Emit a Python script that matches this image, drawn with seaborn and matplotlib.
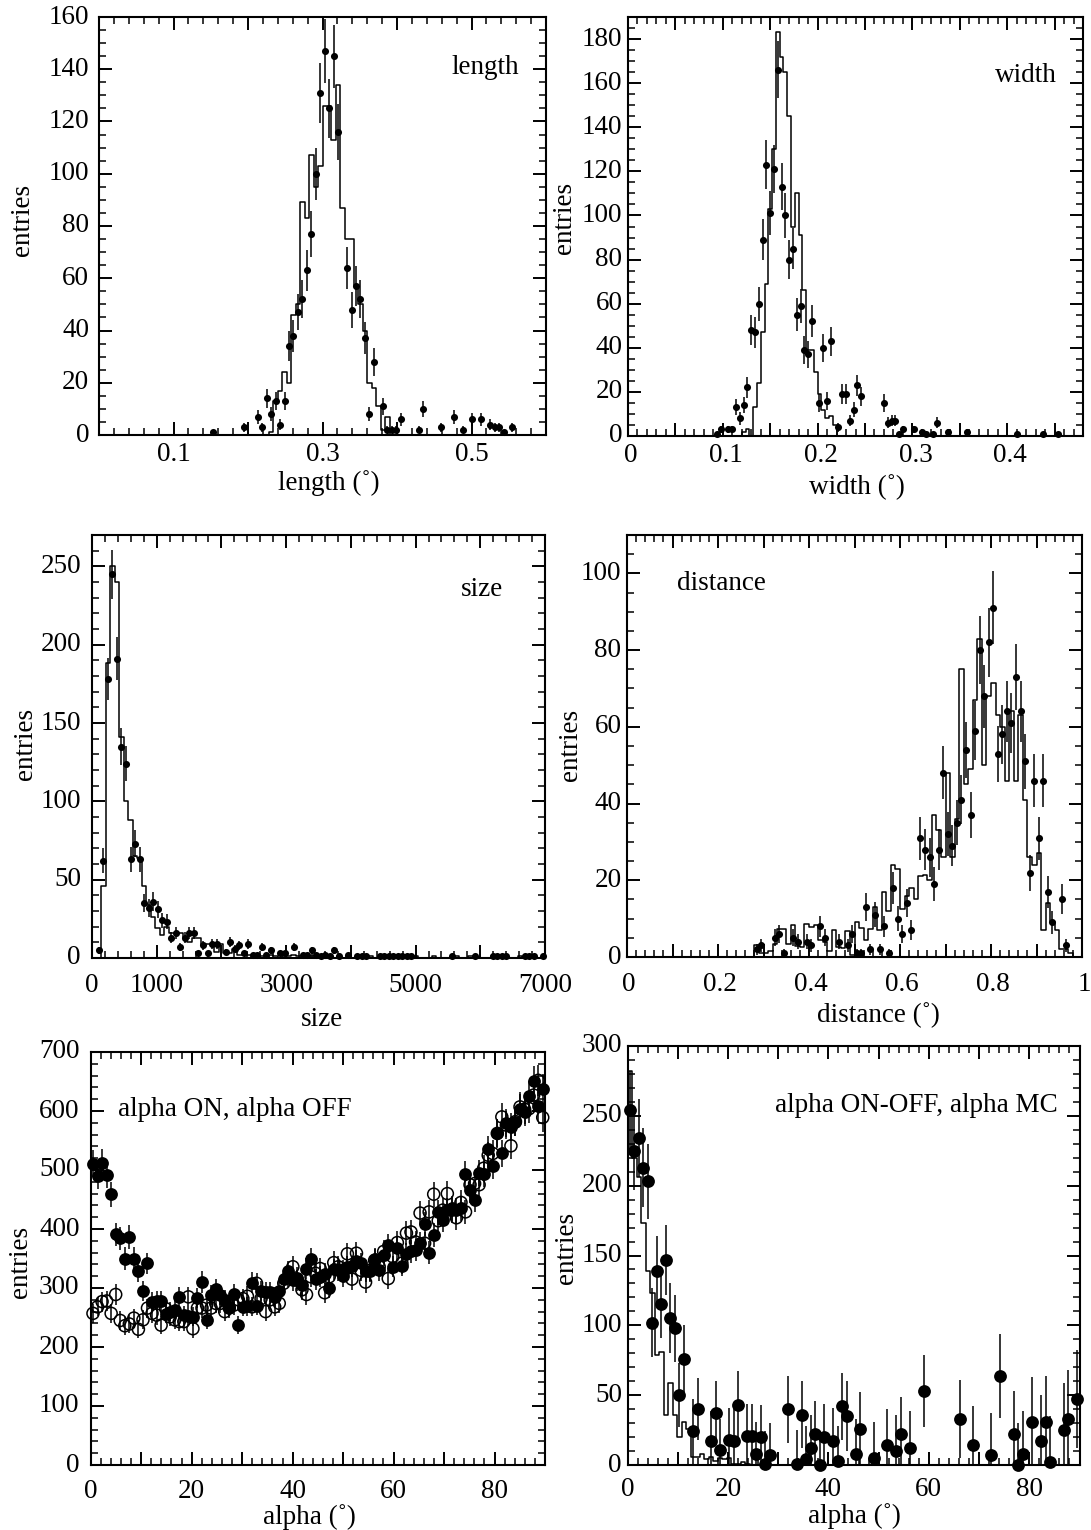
"""Image parameter distributions: data points against simulated histograms."""

import numpy as np
import matplotlib
matplotlib.use("Agg")
import matplotlib.pyplot as plt
from matplotlib.ticker import MultipleLocator
from matplotlib.transforms import ScaledTranslation
import seaborn as sns

# length panel
length_idx = [25, 32, 35, 36, 37, 38, 39, 40, 41, 42, 43, 44, 45, 46, 47, 48, 49, 50, 51, 52, 53,
              55, 56, 57, 58, 59, 60, 61, 63, 64, 65, 66, 67, 71, 72, 76, 79, 81, 83, 85, 87, 88, 89, 90, 92]
length_vals = [1, 3, 7, 3, 14, 8, 13, 4, 13, 34, 38, 47, 52, 63, 77, 100, 131, 147, 125, 145, 116,
               64, 48, 57, 52, 37, 8, 28, 11, 2, 2, 2, 6, 2, 10, 3, 7, 2, 6, 6, 4, 3, 3, 1, 3]
length_errs = [1, 1.7, 2.6, 1.7, 3.7, 2.8, 3.6, 2, 3.6, 5.8, 6.2, 6.9, 7.2, 7.9, 8.8, 10, 11.4, 12.1, 11.2, 12, 10.8,
               8, 6.9, 7.5, 7.2, 6.1, 2.8, 5.3, 3.3, 1.4, 1.4, 1.4, 2.4, 1.4, 3.2, 1.7, 2.6, 1.4, 2.4, 2.4, 2, 1.7, 1.7, 1, 1.7]
length_mc_start = 38
length_mc = [1, 13, 17, 24, 20, 46, 50, 89, 83, 107, 95, 103, 126, 126, 113, 134, 87, 75, 75, 57, 50, 40, 20, 18, 11, 2, 7, 0]

# width panel
width_idx = [23, 24, 26, 27, 28, 29, 30, 31, 32, 33, 34, 35, 36, 37, 38, 39, 40, 41, 42, 43, 44, 45, 46, 47, 48,
             50, 51, 52, 53, 55, 56, 57, 58, 59, 60, 61, 67, 68, 69, 70, 71, 72, 75, 77, 78, 80, 81, 84, 89, 102, 109, 113]
width_vals = [1, 3, 3, 3, 13, 8, 14, 22, 48, 47, 60, 89, 123, 101, 121, 166, 113, 100, 80, 85, 55, 59, 39, 37, 52,
              15, 40, 16, 43, 4, 19, 19, 7, 12, 23, 18, 15, 6, 7, 7, 1, 3, 3, 2, 1, 1, 6, 2, 2, 1, 1, 1]
width_errs = [1, 1.7, 1.7, 1.7, 3.6, 2.8, 3.7, 4.7, 6.9, 6.9, 7.7, 9.4, 11.1, 10, 11, 12.9, 10.6, 10, 8.9, 9.2, 7.4, 7.7, 6.2, 6.1, 7.2,
              3.9, 6.3, 4, 6.6, 2, 4.4, 4.4, 2.6, 3.5, 4.8, 4.2, 3.9, 2.4, 2.6, 2.6, 1, 1.7, 1.7, 1.4, 1, 1, 2.4, 1.4, 1.4, 1, 1, 1]
width_mc_start = 30
width_mc = [2, 3, 0, 13, 24, 47, 69, 103, 130, 183, 172, 165, 145, 95, 110, 91, 66, 39, 39, 29, 19, 12, 8, 9, 5, 0]

# size panel
size_idx = [1, 2, 3, 4, 5, 6, 7, 8, 9, 10, 11, 12, 13, 14, 15, 16, 17, 18, 19, 20, 21, 22, 23, 24, 25, 26, 27,
            29, 30, 31, 32, 33, 34, 35, 36, 37, 38, 39, 41, 42, 44, 46, 47, 48, 49, 50, 51, 52, 53, 54, 56, 58, 59, 60,
            63, 64, 65, 66, 67, 68, 69, 70, 79, 84, 88, 89, 90, 91, 95, 96, 97, 99]
size_vals = [5, 62, 178, 245, 191, 135, 124, 63, 73, 63, 35, 32, 36, 31, 24, 23, 13, 16, 7, 13, 16, 16, 3, 8, 3, 9, 9,
             4, 10, 6, 8, 3, 9, 2, 2, 7, 2, 5, 3, 3, 7, 2, 2, 5, 2, 1, 2, 1, 5, 1, 2, 1, 1, 1,
             1, 1, 1, 1, 1, 1, 1, 1, 1, 1, 1, 1, 1, 1, 1, 1, 1, 1]
size_errs = [2.2, 7.9, 13.3, 15.7, 13.8, 11.6, 11.1, 7.9, 8.5, 7.9, 5.9, 5.7, 6, 5.6, 4.9, 4.8, 3.6, 4, 2.6, 3.6, 4, 4, 1.7, 2.8, 1.7, 3, 3,
             2, 3.2, 2.4, 2.8, 1.7, 3, 1.4, 1.4, 2.6, 1.4, 2.2, 1.7, 1.7, 2.6, 1.4, 1.4, 2.2, 1.4, 1, 1.4, 1, 2.2, 1, 1.4, 1, 1, 1,
             1, 1, 1, 1, 1, 1, 1, 1, 1, 1, 1, 1, 1, 1, 1, 1, 1, 1]
size_mc_start = 2
size_mc = [46, 188, 250, 240, 141, 100, 88, 65, 64, 46, 34, 26, 19, 15, 20, 16, 16, 16, 13, 10,
           13, 13, 8, 9, 9, 4, 9, 3, 3, 6, 2, 2, 2, 1, 2, 1, 1, 2, 1, 0, 1,
           1, 2, 1, 1, 0, 1, 1, 0, 1, 1, 0, 1, 0, 1, 0, 0, 1, 0, 1, 0,
           0, 1, 0, 0, 1, 0, 0, 0, 1, 0, 0, 0, 1, 0, 0, 0, 0, 1, 0, 0,
           1, 0, 0, 0, 0, 1, 0, 0, 0, 0, 0, 1, 0, 0, 0, 0, 0]

# distance panel
dist_idx = [28, 29, 32, 33, 34, 36, 37, 39, 40, 42, 43, 46, 48, 49, 50, 51, 52, 53, 54, 55,
            56, 57, 58, 59, 60, 61, 62, 64, 65, 66, 67, 68, 69, 70, 71, 72, 73, 74, 75, 76,
            77, 78, 79, 80, 81, 82, 83, 84, 85, 86, 87, 88, 89, 90, 91, 92, 93, 95, 96]
dist_vals = [2, 3, 5, 6, 1, 5, 4, 4, 3, 8, 5, 4, 3, 6, 1, 1, 13, 2, 11, 2,
             8, 1, 18, 10, 6, 14, 7, 31, 28, 26, 19, 28, 48, 32, 29, 35, 41, 54, 37, 59,
             80, 68, 82, 91, 53, 58, 64, 61, 73, 64, 51, 22, 46, 31, 46, 17, 9, 15, 3]
dist_errs = [1.4, 1.7, 2.2, 2.4, 1, 2.2, 2, 2, 1.7, 2.8, 2.2, 2, 1.7, 2.4, 1, 1, 3.6, 1.4, 3.3, 1.4,
             2.8, 1, 4.2, 3.2, 2.4, 3.7, 2.6, 5.6, 5.3, 5.1, 4.4, 5.3, 6.9, 5.7, 5.4, 5.9, 6.4, 7.3, 6.1, 7.7,
             8.9, 8.2, 9.1, 9.5, 7.3, 7.6, 8, 7.8, 8.5, 8, 7.1, 4.7, 6.8, 5.6, 6.8, 4.1, 3, 3.9, 1.7]
dist_mc_start = 28
dist_mc = [3, 1, 1, 1.5, 3.5, 7.2, 7.4, 3.3, 8.3, 2.8, 2.7, 8.5, 7.7, 8.3, 4.4, 4, 1.5, 7, 2.6, 2.4,
           6.8, 0.5, 9, 7.5, 4.4, 7.2, 13, 7, 17, 12, 24, 23, 12.5, 16, 18, 15, 21, 21.4, 20, 37,
           33, 26, 48, 26, 36, 75, 45, 49, 67, 83, 50, 68, 71.5, 63, 60, 46, 64, 46, 63, 41,
           26, 24, 27, 7, 14, 9, 7, 2, 2, 1, 0]

# alpha ON / OFF panel, one value for each of the 100 bins
alpha_on = [511, 489, 512, 491, 459, 391, 384, 350, 386, 350, 329, 295, 342, 277, 278, 278, 256, 260, 263, 284,
            254, 252, 251, 283, 310, 246, 288, 299, 288, 280, 268, 290, 237, 268, 269, 309, 270, 295, 294, 294,
            285, 295, 315, 328, 313, 317, 305, 333, 349, 315, 319, 324, 300, 332, 330, 320, 336, 337, 346, 342,
            328, 329, 349, 330, 356, 373, 336, 367, 338, 358, 362, 364, 376, 408, 360, 390, 428, 415, 432, 435,
            432, 435, 494, 466, 450, 495, 493, 535, 507, 563, 528, 580, 573, 582, 603, 599, 626, 651, 608, 637]
alpha_on_errs = [23, 22, 23, 22, 21, 20, 20, 19, 20, 19, 18, 17, 18, 17, 17, 17, 16, 16, 16, 17,
                 16, 16, 16, 17, 18, 16, 17, 17, 17, 17, 16, 17, 15, 16, 16, 18, 16, 17, 17, 17,
                 17, 17, 18, 18, 18, 18, 17, 18, 19, 18, 18, 18, 17, 18, 18, 18, 18, 18, 19, 18,
                 18, 18, 19, 18, 19, 19, 18, 19, 18, 19, 19, 19, 19, 20, 19, 20, 21, 20, 21, 21,
                 21, 21, 22, 22, 21, 22, 22, 23, 23, 24, 23, 24, 24, 24, 25, 24, 25, 26, 25, 25]
alpha_off = [257, 268, 277, 278, 257, 289, 245, 236, 239, 249, 230, 246, 266, 257, 254, 237, 265, 251, 246, 243,
             243, 285, 231, 266, 266, 271, 266, 274, 274, 260, 266, 271, 280, 282, 286, 268, 308, 282, 260, 280,
             268, 274, 308, 319, 336, 313, 297, 289, 319, 325, 333, 292, 319, 343, 336, 330, 358, 315, 359, 330,
             310, 330, 347, 336, 362, 316, 353, 377, 342, 393, 395, 378, 427, 376, 429, 459, 414, 432, 460, 432,
             419, 445, 429, 475, 477, 475, 503, 525, 528, 562, 590, 576, 541, 582, 607, 603, 604, 627, 652, 589]
alpha_off_errs = [16, 16, 17, 17, 16, 17, 16, 15, 15, 16, 15, 16, 16, 16, 16, 15, 16, 16, 16, 16,
                  16, 17, 15, 16, 16, 16, 16, 17, 17, 16, 16, 16, 17, 17, 17, 16, 18, 17, 16, 17,
                  16, 17, 18, 18, 18, 18, 17, 17, 18, 18, 18, 17, 18, 19, 18, 18, 19, 18, 19, 18,
                  18, 18, 19, 18, 19, 18, 19, 19, 18, 20, 20, 19, 21, 19, 21, 21, 20, 21, 21, 21,
                  20, 21, 21, 22, 22, 22, 22, 23, 23, 24, 24, 24, 23, 24, 25, 25, 25, 25, 26, 24]

# alpha ON-OFF panel
diff_idx = [0, 1, 2, 3, 4, 5, 6, 7, 8, 9, 10, 11, 12, 14, 15, 18, 19, 20, 22, 23, 24, 26, 27, 28, 29, 30, 31,
            35, 37, 38, 39, 40, 41, 42, 43, 45, 46, 47, 48, 50, 51, 54, 57, 59, 60, 62, 65,
            73, 76, 80, 82, 85, 86, 87, 89, 91, 92, 93, 96, 97, 99]
diff_vals = [254, 225, 234, 213, 203, 102, 139, 115, 147, 105, 98, 50, 76, 24, 40, 17, 37, 11, 18, 17, 43, 21, 21, 8, 20, 1, 7,
             40, 1, 36, 4, 12, 22, 0, 20, 17, 3, 42, 35, 8, 26, 5, 14, 10, 22, 12, 53,
             33, 14, 7, 64, 22, 0, 8, 31, 17, 31, 2, 25, 33, 47]
diff_errs = [28, 28, 28, 28, 27, 25, 25, 24, 25, 25, 24, 23, 24, 23, 22, 22, 23, 22, 23, 23, 24, 23, 23, 23, 23, 23, 23,
             24, 24, 24, 24, 24, 24, 24, 24, 24, 25, 24, 25, 25, 26, 26, 26, 26, 27, 27, 26,
             28, 28, 30, 30, 31, 30, 31, 32, 33, 33, 33, 34, 35, 35]
diff_mc = [282, 220, 206, 173, 139, 123, 79, 81, 36, 59, 36, 20, 31, 26, 6, 6, 8, 4, 6, 3, 5, 4, 5, 1, 1, 2, 1, 0]

x_labels = {
    "length": {0.1: "0.1", 0.3: "0.3", 0.5: "0.5"},
    "width": {0: "0", 0.1: "0.1", 0.2: "0.2", 0.3: "0.3", 0.4: "0.4"},
    "size": {0: "0", 1000: "1000", 3000: "3000", 5000: "5000", 7000: "7000"},
    "distance": {0: "0", 0.2: "0.2", 0.4: "0.4", 0.6: "0.6", 0.8: "0.8", 1: "1"},
    "alpha": {0: "0", 20: "20", 40: "40", 60: "60", 80: "80"},
}

W, H = 1091, 1530
DPI = 100
FONT = 19.5


def draw_hist(ax, counts, start, xmax, nbins):
    """MC histogram as a step outline."""
    width = xmax / nbins
    centers = (start + np.arange(len(counts)) + 0.5) * width
    edges = np.linspace(0, xmax, nbins + 1).tolist()
    sns.histplot(x=centers, weights=counts, bins=edges, element="step", fill=False,
                 color="black", linewidth=1.1, ax=ax, legend=False)


def draw_points(ax, idx, vals, errs, xmax, nbins, size=26, open_marker=False):
    """Data points with vertical error bars."""
    x = (np.asarray(idx) + 0.5) * xmax / nbins
    ax.errorbar(x, vals, yerr=errs, fmt="none", ecolor="black", elinewidth=1.1, capsize=0)
    if open_marker:
        sns.scatterplot(x=x, y=vals, s=size, facecolor="none", edgecolor="black",
                        linewidth=1.1, clip_on=False, zorder=3, ax=ax)
    else:
        sns.scatterplot(x=x, y=vals, s=size, color="black", linewidth=0,
                        clip_on=False, zorder=4, ax=ax)


def style_axis(ax, xmax, ymax, xstep, xminor, ystep, yminor, labels, xname,
               xlab_pos, ylab_pos, box, xpad, ypad, xshift=0):
    left, right, top, bottom = box

    nx = int(np.floor(xmax / xstep + 1e-9))
    xticks = [round(i * xstep, 4) for i in range(nx + 1)]
    ax.set_xticks(xticks)
    ax.set_xticklabels([labels.get(t, "") for t in xticks])
    ax.xaxis.set_minor_locator(MultipleLocator(xminor))
    yticks = np.arange(0, ymax + 1, ystep)
    ax.set_yticks(yticks)
    ax.yaxis.set_minor_locator(MultipleLocator(yminor))
    ax.set_xlim(0, xmax)
    ax.set_ylim(0, ymax)

    ax.tick_params(which="major", direction="in", length=9.4, width=1.4, top=True, right=True,
                   labelsize=FONT, bottom=True, left=True)
    ax.tick_params(which="minor", direction="in", length=4.7, width=1.1, top=True, right=True,
                   bottom=True, left=True)
    ax.tick_params(axis="x", which="major", pad=xpad)
    ax.tick_params(axis="y", which="major", pad=ypad)
    for spine in ax.spines.values():
        spine.set_linewidth(1.5)
        spine.set_color("black")

    # numbers sit a little above their ticks on the y axis
    up = ScaledTranslation(0, 3 / DPI, ax.figure.dpi_scale_trans)
    for lab in ax.get_yticklabels():
        lab.set_transform(lab.get_transform() + up)
    if xshift:
        over = ScaledTranslation(xshift / DPI, 0, ax.figure.dpi_scale_trans)
        for lab in ax.get_xticklabels():
            lab.set_transform(lab.get_transform() + over)

    ax.set_xlabel(xname, fontsize=FONT, va="center")
    ax.set_ylabel("entries", fontsize=FONT, va="center")
    w, h = right - left, bottom - top
    ax.xaxis.set_label_coords((xlab_pos[0] - left) / w, (bottom - xlab_pos[1]) / h)
    ax.yaxis.set_label_coords((ylab_pos[0] - left) / w, (bottom - ylab_pos[1]) / h)


def add_axes(fig, box):
    left, right, top, bottom = box
    return fig.add_axes([left / W, 1 - bottom / H, (right - left) / W, (bottom - top) / H])


def add_note(ax, box, text, cx, cy):
    left, right, top, bottom = box
    ax.text((cx - left) / (right - left), (bottom - cy) / (bottom - top), text, fontsize=FONT,
            ha="center", va="center", transform=ax.transAxes)


def main():
    sns.set_style("ticks", {"text.color": "black", "axes.labelcolor": "black",
                            "xtick.color": "black", "ytick.color": "black"})
    plt.rcParams["font.family"] = ["Liberation Serif", "DejaVu Serif"]
    fig = plt.figure(figsize=(W / DPI, H / DPI), dpi=DPI)

    # length
    box = (99, 546, 17, 435)
    ax = add_axes(fig, box)
    draw_hist(ax, length_mc, length_mc_start, 0.6, 100)
    draw_points(ax, length_idx, length_vals, length_errs, 0.6, 100)
    style_axis(ax, 0.6, 160, 0.1, 0.02, 20, 5, x_labels["length"], "length (˚)",
               (329, 483), (23, 220), box, 5, 7)
    add_note(ax, box, "length", 485, 67)

    # width
    box = (628, 1083, 17, 436)
    ax = add_axes(fig, box)
    draw_hist(ax, width_mc, width_mc_start, 0.48, 120)
    draw_points(ax, width_idx, width_vals, width_errs, 0.48, 120)
    style_axis(ax, 0.48, 190, 0.05, 0.01, 20, 5, x_labels["width"], "width (˚)",
               (857, 487), (565, 218), box, 5, 4, xshift=3)
    add_note(ax, box, "width", 1026, 75)

    # size
    box = (92, 545, 535, 958)
    ax = add_axes(fig, box)
    draw_hist(ax, size_mc, size_mc_start, 7000, 100)
    draw_points(ax, size_idx, size_vals, size_errs, 7000, 100)
    style_axis(ax, 7000, 270, 1000, 200, 50, 10, x_labels["size"], "size",
               (322, 1019), (26, 744), box, 11, 8)
    add_note(ax, box, "size", 482, 589)

    # distance
    box = (627, 1082, 535, 957)
    ax = add_axes(fig, box)
    draw_hist(ax, dist_mc, dist_mc_start, 1.0, 100)
    draw_points(ax, dist_idx, dist_vals, dist_errs, 1.0, 100)
    style_axis(ax, 1.0, 110, 0.1, 0.02, 20, 5, x_labels["distance"], "distance (˚)",
               (878, 1015), (571, 745), box, 11, 4, xshift=2)
    add_note(ax, box, "distance", 721, 583)

    # alpha ON and OFF
    box = (90.7, 545, 1052, 1465)
    ax = add_axes(fig, box)
    bins = np.arange(100)
    draw_points(ax, bins, alpha_off, alpha_off_errs, 90, 100, size=75, open_marker=True)
    draw_points(ax, bins, alpha_on, alpha_on_errs, 90, 100, size=85)
    style_axis(ax, 90, 700, 10, 2, 100, 20, x_labels["alpha"], "alpha (˚)",
               (309, 1517), (20, 1262), box, 10, 8)
    add_note(ax, box, "alpha ON, alpha OFF", 235, 1109)

    # alpha ON-OFF against MC
    box = (627.5, 1079.5, 1046, 1465)
    ax = add_axes(fig, box)
    draw_hist(ax, diff_mc, 0, 90, 100)
    draw_points(ax, diff_idx, diff_vals, diff_errs, 90, 100, size=85)
    style_axis(ax, 90, 300, 10, 2, 50, 10, x_labels["alpha"], "alpha (˚)",
               (854, 1516), (567, 1248), box, 9, 4)
    add_note(ax, box, "alpha ON-OFF, alpha MC", 916, 1105)

    fig.savefig("out.png", dpi=DPI)
    plt.close(fig)


if __name__ == "__main__":
    main()
